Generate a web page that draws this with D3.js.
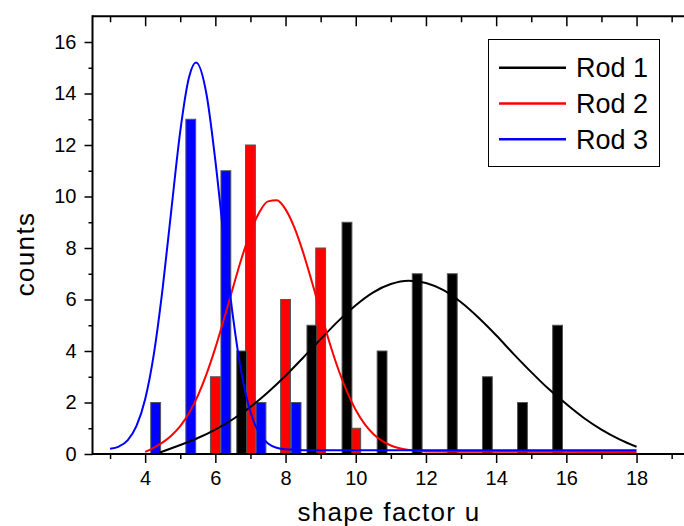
<!DOCTYPE html>
<html>
<head>
<meta charset="utf-8">
<script src="https://cdn.jsdelivr.net/npm/d3@7"></script>
<style>
  body { margin: 0; background: #fff; }
  svg { display: block; font-family: "Liberation Sans", Arial, sans-serif; }
</style>
</head>
<body>
<div id="chart"></div>
<script>
// histogram bars (bin position, counts)
var rod1X = [6.75, 8.75, 9.75, 10.75, 11.75, 12.75, 13.75, 14.75, 15.75];
var rod1Counts = [4, 5, 9, 4, 7, 7, 3, 2, 5];
var rod2X = [6, 7, 8, 9, 10];
var rod2Counts = [3, 12, 6, 8, 1];
var rod3X = [4.3, 5.3, 6.3, 7.3, 8.3];
var rod3Counts = [2, 13, 11, 2, 2];

// fitted curves
var rod1FitX = [4.4, 5, 5.5, 6, 6.5, 7, 7.5, 8, 8.5, 9, 9.5, 10, 10.5, 11, 11.5, 12, 12.5, 13, 13.5, 14, 14.5, 15, 15.5, 16, 16.5, 17, 17.5, 18];
var rod1FitY = [0.05, 0.35, 0.62, 0.95, 1.35, 1.83, 2.4, 3.04, 3.74, 4.46, 5.16, 5.78, 6.28, 6.6, 6.73, 6.64, 6.36, 5.89, 5.29, 4.61, 3.88, 3.18, 2.52, 1.94, 1.4, 0.95, 0.58, 0.28];
var rod2FitX = [4, 4.25, 4.5, 4.75, 5, 5.25, 5.5, 5.75, 6, 6.25, 6.5, 6.75, 7, 7.25, 7.5, 7.75, 8, 8.25, 8.5, 8.75, 9, 9.25, 9.5, 9.75, 10, 10.25, 10.5, 10.75, 11, 11.25, 11.5, 12, 13, 18];
var rod2FitY = [0.08, 0.25, 0.45, 0.72, 1.08, 1.59, 2.26, 3.11, 4.12, 5.26, 6.45, 7.61, 8.62, 9.38, 9.81, 9.85, 9.5, 8.8, 7.83, 6.69, 5.5, 4.34, 3.3, 2.42, 1.71, 1.17, 0.78, 0.51, 0.33, 0.22, 0.16, 0.1, 0.09, 0.08];
var rod3FitX = [3, 3.25, 3.5, 3.75, 4, 4.25, 4.5, 4.75, 5, 5.25, 5.45, 5.75, 6, 6.25, 6.5, 6.75, 7, 7.25, 7.5, 7.75, 8, 8.5, 18];
var rod3FitY = [0.2, 0.29, 0.53, 1.08, 2.13, 3.9, 6.45, 9.53, 12.53, 14.63, 15.2, 13.95, 11.39, 8.27, 5.35, 3.1, 1.63, 0.81, 0.41, 0.24, 0.18, 0.15, 0.15];

var xMajorTicks = [4, 6, 8, 10, 12, 14, 16, 18];
var xMinorTicks = [3, 5, 7, 9, 11, 13, 15, 17, 19];
var yMajorTicks = [0, 2, 4, 6, 8, 10, 12, 14, 16];
var yMinorTicks = [1, 3, 5, 7, 9, 11, 13, 15];

var legendNames = ["Rod 1", "Rod 2", "Rod 3"];
var colors = ["#000000", "#ff0000", "#0000ff"];

var width = 684, height = 526;
var mLeft = 92.5, mTop = 16.25, mBottom = 454;

var svg = d3.select("#chart")
    .append("svg")
    .attr("width", width)
    .attr("height", height);

var x = d3.scaleLinear().domain([2.5, 19.5]).range([mLeft, mLeft + 17 * 35.1]);
var y = d3.scaleLinear().domain([0, 17]).range([mBottom, mTop]);

function toBars(xs, counts, name) {
    return xs.map(function (d, i) { return { x: d, v: counts[i], name: name }; });
}
function toPoints(xs, ys) {
    return xs.map(function (d, i) { return [d, ys[i]]; });
}

var barW = 0.28;
var bars = [
    toBars(rod3X, rod3Counts, 2),
    toBars(rod2X, rod2Counts, 1),
    toBars(rod1X, rod1Counts, 0)
];

var plot = svg.append("g");

bars.forEach(function (set) {
    plot.selectAll(null)
        .data(set)
        .enter()
        .append("rect")
        .attr("x", function (d) { return x(d.x - barW / 2); })
        .attr("y", function (d) { return y(d.v); })
        .attr("width", function (d) { return x(d.x + barW / 2) - x(d.x - barW / 2); })
        .attr("height", function (d) { return y(0) - y(d.v); })
        .attr("fill", function (d) { return colors[d.name]; })
        .attr("stroke", "#555")
        .attr("stroke-width", 1);
});

var line = d3.line()
    .x(function (d) { return x(d[0]); })
    .y(function (d) { return y(d[1]); })
    .curve(d3.curveMonotoneX);

var fits = [
    { pts: toPoints(rod1FitX, rod1FitY), c: colors[0] },
    { pts: toPoints(rod2FitX, rod2FitY), c: colors[1] },
    { pts: toPoints(rod3FitX, rod3FitY), c: colors[2] }
];

fits.forEach(function (f) {
    plot.append("path")
        .attr("d", line(f.pts))
        .attr("fill", "none")
        .attr("stroke", f.c)
        .attr("stroke-width", 2);
});

// axes
function styleAxis(g) {
    g.attr("font-family", null);
    g.select(".domain").remove();
    g.selectAll(".tick line").attr("stroke", "#000").attr("stroke-width", 1.5);
    g.selectAll(".tick text").attr("fill", "#000").style("font-size", "20px");
}

svg.append("g")
    .attr("transform", "translate(0," + mBottom + ")")
    .call(d3.axisBottom(x).tickValues(xMajorTicks).tickSize(9).tickPadding(8).tickFormat(d3.format("d")))
    .call(styleAxis);

svg.append("g")
    .attr("transform", "translate(0," + mBottom + ")")
    .call(d3.axisBottom(x).tickValues(xMinorTicks).tickSize(5).tickFormat(""))
    .call(styleAxis);

svg.append("g")
    .attr("transform", "translate(0," + mTop + ")")
    .call(d3.axisBottom(x).tickValues(xMajorTicks).tickSize(10).tickFormat(""))
    .call(styleAxis);

svg.append("g")
    .attr("transform", "translate(0," + mTop + ")")
    .call(d3.axisBottom(x).tickValues(xMinorTicks).tickSize(6).tickFormat(""))
    .call(styleAxis);

svg.append("g")
    .attr("transform", "translate(" + mLeft + ",0)")
    .call(d3.axisLeft(y).tickValues(yMajorTicks).tickSize(8).tickPadding(8).tickFormat(d3.format("d")))
    .call(styleAxis);

svg.append("g")
    .attr("transform", "translate(" + mLeft + ",0)")
    .call(d3.axisLeft(y).tickValues(yMinorTicks).tickSize(4).tickFormat(""))
    .call(styleAxis);

// frame lines
svg.append("line").attr("x1", mLeft).attr("x2", width).attr("y1", mBottom).attr("y2", mBottom)
    .attr("stroke", "#000").attr("stroke-width", 2);
svg.append("line").attr("x1", mLeft).attr("x2", width).attr("y1", mTop).attr("y2", mTop)
    .attr("stroke", "#000").attr("stroke-width", 2);
svg.append("line").attr("x1", mLeft).attr("x2", mLeft).attr("y1", mTop - 1).attr("y2", mBottom + 1)
    .attr("stroke", "#000").attr("stroke-width", 2);

// axis titles
svg.append("text")
    .attr("x", 389)
    .attr("y", 521)
    .attr("text-anchor", "middle")
    .style("font-size", "26px")
    .style("letter-spacing", "1.3px")
    .text("shape factor u");

svg.append("text")
    .attr("transform", "translate(34,254) rotate(-90)")
    .attr("text-anchor", "middle")
    .style("font-size", "26px")
    .style("letter-spacing", "1.3px")
    .text("counts");

// legend
var legend = svg.append("g");
legend.append("rect")
    .attr("x", 488.5).attr("y", 39.5)
    .attr("width", 171).attr("height", 127)
    .attr("fill", "#fff")
    .attr("stroke", "#000")
    .attr("stroke-width", 1);

var rows = legend.selectAll(null)
    .data(legendNames)
    .enter()
    .append("g")
    .attr("transform", function (d, i) { return "translate(0," + (67.7 + i * 35.8) + ")"; });

rows.append("line")
    .attr("x1", 499).attr("x2", 566)
    .attr("stroke", function (d, i) { return colors[i]; })
    .attr("stroke-width", 2.5);

rows.append("text")
    .attr("x", 576)
    .attr("y", 9.5)
    .style("font-size", "27px")
    .text(function (d) { return d; });
</script>
</body>
</html>
